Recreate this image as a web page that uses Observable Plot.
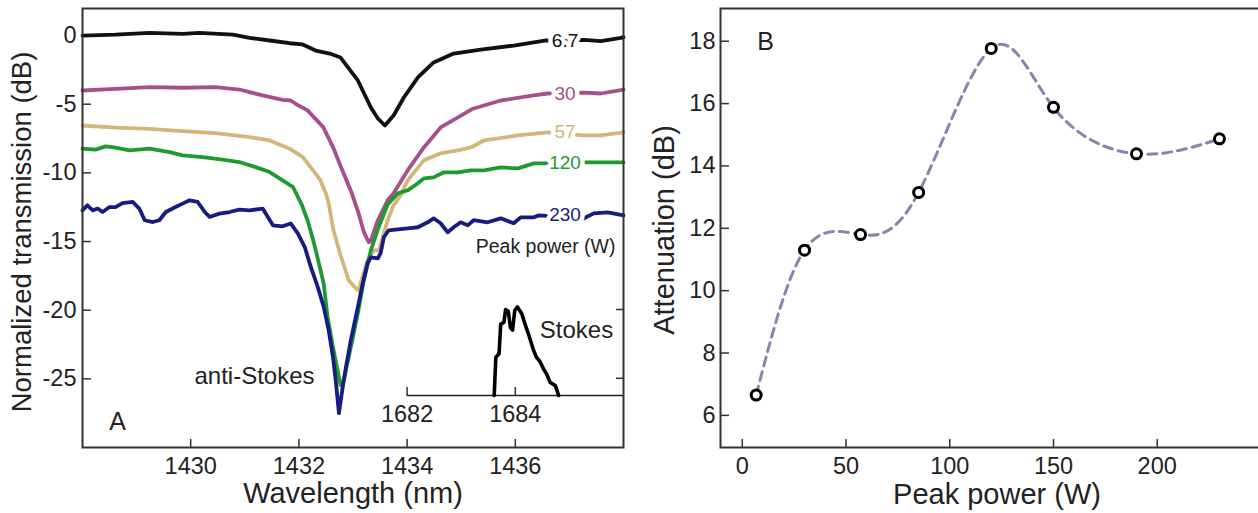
<!DOCTYPE html>
<html><head><meta charset="utf-8">
<script src="https://cdn.jsdelivr.net/npm/d3@7"></script>
<script src="https://cdn.jsdelivr.net/npm/@observablehq/plot@0.6"></script>
<style>
html,body{margin:0;padding:0;background:#fff;overflow:hidden}
#wrap{position:relative;width:1258px;height:513px;overflow:hidden;background:#fff}
#wrap svg{position:absolute}
</style></head><body><div id="wrap"></div>
<script>
// ---------- Panel A data (wavelength nm, normalized transmission dB) ----------
const wl67 = [1428.00,1428.61,1429.24,1429.85,1430.16,1430.78,1431.09,1431.46,1431.83,1432.07,1432.31,1432.57,1432.77,1433.09,1433.33,1433.46,1433.59,1433.75,1433.94,1434.20,1434.49,1434.86,1435.36,1435.97,1436.57,1437.27,1437.58,1437.95,1438.00];
const db67 = [0.00,0.07,0.20,0.12,0.20,0.07,-0.17,-0.36,-0.56,-0.65,-1.09,-1.31,-1.60,-3.27,-5.24,-6.04,-6.55,-5.82,-4.51,-3.05,-1.96,-1.31,-1.02,-0.73,-0.36,-0.31,-0.41,-0.17,-0.12];

const wl30 = [1428.00,1428.61,1429.24,1429.85,1430.46,1430.90,1431.33,1431.70,1431.85,1431.94,1432.16,1432.45,1432.63,1432.77,1432.96,1433.10,1433.20,1433.29,1433.33,1433.46,1433.64,1433.75,1434.01,1434.31,1434.62,1434.94,1435.20,1435.73,1436.34,1436.60,1437.27,1437.58,1438.00];
const db30 = [-4.00,-3.88,-3.76,-3.80,-3.76,-3.93,-4.36,-4.68,-4.73,-4.97,-5.45,-6.67,-8.12,-9.50,-11.30,-12.90,-14.30,-15.05,-14.91,-13.45,-12.00,-11.49,-9.82,-8.15,-6.69,-5.96,-5.35,-4.73,-4.36,-4.22,-4.15,-4.22,-3.93];

const wl57 = [1428.00,1428.61,1429.24,1429.85,1430.46,1431.09,1431.46,1431.83,1432.07,1432.31,1432.40,1432.50,1432.55,1432.64,1432.77,1432.92,1433.05,1433.11,1433.14,1433.27,1433.38,1433.48,1433.57,1433.64,1433.75,1433.88,1434.01,1434.31,1434.62,1434.94,1435.18,1435.42,1436.05,1436.60,1437.27,1437.58,1438.00];
const db57 = [-6.55,-6.71,-6.79,-6.96,-7.11,-7.40,-7.64,-8.24,-8.85,-10.06,-10.55,-11.51,-12.20,-14.20,-16.00,-17.82,-18.40,-18.55,-18.04,-16.36,-15.64,-15.64,-14.40,-13.45,-12.36,-11.64,-10.55,-9.09,-8.58,-8.36,-8.15,-7.64,-7.27,-7.05,-7.27,-7.27,-7.05];

const wl120 = [1428.00,1428.24,1428.43,1428.61,1428.87,1429.24,1429.61,1429.85,1430.22,1430.59,1430.90,1431.20,1431.46,1431.70,1431.89,1432.05,1432.16,1432.27,1432.40,1432.46,1432.53,1432.64,1432.74,1432.77,1432.83,1432.96,1433.09,1433.20,1433.33,1433.46,1433.64,1433.83,1434.01,1434.20,1434.31,1434.49,1434.68,1434.94,1435.18,1435.42,1435.73,1436.05,1436.34,1436.47,1437.27,1437.58,1438.00];
const db120 = [-8.24,-8.31,-8.07,-8.17,-8.36,-8.24,-8.49,-8.73,-8.85,-9.04,-9.21,-9.58,-9.94,-10.55,-11.03,-12.30,-13.45,-14.98,-17.09,-18.10,-20.50,-22.90,-24.87,-25.45,-25.09,-22.69,-20.22,-17.82,-15.64,-14.10,-12.30,-11.49,-11.27,-10.76,-10.40,-10.33,-9.96,-9.96,-9.82,-9.82,-9.60,-9.67,-9.31,-9.31,-9.24,-9.24,-9.24];

const wl230 = [1428.00,1428.09,1428.19,1428.28,1428.37,1428.50,1428.61,1428.74,1428.93,1429.05,1429.15,1429.30,1429.42,1429.54,1429.72,1429.85,1429.98,1430.13,1430.26,1430.35,1430.53,1430.72,1430.90,1431.09,1431.33,1431.52,1431.70,1431.85,1431.98,1432.11,1432.22,1432.35,1432.46,1432.55,1432.63,1432.68,1432.74,1432.81,1432.87,1432.96,1433.09,1433.18,1433.27,1433.33,1433.46,1433.51,1433.57,1433.66,1433.83,1434.01,1434.20,1434.38,1434.49,1434.62,1434.75,1434.86,1434.99,1435.12,1435.23,1435.49,1435.73,1435.97,1436.10,1436.34,1436.44,1437.27,1437.45,1437.71,1438.00];
const db230 = [-12.73,-12.36,-12.73,-12.60,-12.85,-12.49,-12.49,-12.20,-12.12,-12.60,-13.45,-13.58,-13.45,-12.85,-12.49,-12.24,-12.00,-12.12,-12.85,-13.21,-12.97,-12.85,-12.68,-12.73,-12.60,-13.82,-13.89,-13.69,-14.40,-15.42,-16.85,-18.33,-19.78,-21.45,-23.42,-25.09,-27.50,-25.60,-24.15,-22.18,-19.78,-18.04,-16.58,-16.15,-16.22,-15.85,-14.69,-14.18,-14.11,-14.04,-13.96,-13.60,-13.31,-13.67,-14.33,-13.96,-13.60,-13.82,-13.45,-13.60,-13.31,-13.67,-13.24,-13.24,-13.09,-13.31,-12.95,-12.87,-13.09];

const powerLabels = ["6.7", "30", "57", "120", "230"];
const seriesColors = ["#111111", "#a5508c", "#d5b67a", "#1f9a2f", "#161c80"];
const seriesWl = [wl67, wl30, wl57, wl120, wl230];
const seriesDb = [db67, db30, db57, db120, db230];

const xTicksA = [1430, 1432, 1434, 1436];
const yTicksA = [0, -5, -10, -15, -20, -25];

// inset (Stokes), wavelength nm and normalized intensity
const stokesWl = [1683.61,1683.64,1683.70,1683.73,1683.79,1683.82,1683.87,1683.91,1683.95,1683.99,1684.04,1684.12,1684.18,1684.24,1684.33,1684.39,1684.46,1684.52,1684.58,1684.64,1684.74,1684.77,1684.80];
const stokesI  = [0,0.445,0.485,0.83,0.85,1.00,0.98,0.79,0.76,0.99,1.03,0.95,0.83,0.72,0.54,0.445,0.39,0.31,0.25,0.155,0.115,0.06,0];
const insetXTicks = [1682, 1684];
const insetYTicks = [0.2, 1];

// ---------- Panel B data ----------
const peakPower = [6.7, 30, 57, 85, 120, 150, 190, 230];
const attenuation = [6.65, 11.3, 11.8, 13.15, 17.77, 15.88, 14.39, 14.87];
const xTicksB = [0, 50, 100, 150, 200];
const yTicksB = [6, 8, 10, 12, 14, 16, 18];

const FONT = "'Liberation Sans', Arial, Helvetica, sans-serif";
const INK = "#222";
const baseStyle = {fontFamily: FONT, fontSize: "23.5px", color: INK, background: "transparent", overflow: "visible"};
const plain = d => String(d);

const rowsA = [];
seriesWl.forEach((wls, k) => wls.forEach((w, i) => rowsA.push({p: powerLabels[k], wl: w, db: seriesDb[k][i]})));
const labelRows = powerLabels.map((p, k) => {
  const wls = seriesWl[k];
  let best = 0;
  wls.forEach((w, i) => { if (Math.abs(w - 1436.55) < Math.abs(wls[best] - 1436.55)) best = i; });
  return {p, db: seriesDb[k][best], color: seriesColors[k]};
});

const colorScale = {domain: powerLabels, range: seriesColors};

const left = Plot.plot({
  width: 640, height: 513,
  marginLeft: 82, marginRight: 17, marginTop: 8, marginBottom: 66,
  style: baseStyle,
  x: {domain: [1428, 1438]},
  y: {domain: [-30, 1.97]},
  color: colorScale,
  marks: [
    Plot.axisX({ticks: xTicksA, tickFormat: plain, tickSize: -8, tickPadding: 18, label: null, strokeWidth: 1.5, stroke: "#333"}),
    Plot.axisY({ticks: yTicksA, tickFormat: plain, tickSize: -9, tickPadding: 15, label: null, strokeWidth: 1.5, stroke: "#333"}),
    Plot.line(rowsA, {x: "wl", y: "db", z: "p", stroke: "p", strokeWidth: 3.8, strokeLinejoin: "round"}),
    Plot.text(labelRows, {x: () => 1436.92, y: "db", text: "p", fill: "color", stroke: "white", strokeWidth: 9, paintOrder: "stroke", fontSize: 19, textAnchor: "middle", lineAnchor: "middle"}),
    Plot.text(["Peak power (W)"], {frameAnchor: "top-right", dx: -8, dy: 238, textAnchor: "end", lineAnchor: "middle", fontSize: 19.5, fill: INK}),
    Plot.text(["anti-Stokes"], {frameAnchor: "bottom-left", dx: 172, dy: -71, textAnchor: "middle", lineAnchor: "middle", fontSize: 24, fill: INK}),
    Plot.text(["A"], {frameAnchor: "bottom-left", dx: 35, dy: -26, textAnchor: "middle", lineAnchor: "middle", fontSize: 25, fill: INK}),
    Plot.text(["Normalized transmission (dB)"], {frameAnchor: "left", dx: -60, dy: 4, rotate: -90, textAnchor: "middle", lineAnchor: "middle", fontSize: 27.5, fill: INK}),
    Plot.text(["Wavelength (nm)"], {frameAnchor: "bottom", dy: 46, textAnchor: "middle", lineAnchor: "middle", fontSize: 29, fill: INK}),
    Plot.frame({stroke: "#333", strokeWidth: 2})
  ]
});

const stokesRows = stokesWl.map((w, i) => ({wl: w, v: stokesI[i]}));
const inset = Plot.plot({
  width: 640, height: 140,
  marginLeft: 82, marginRight: 17, marginTop: 19, marginBottom: 35,
  style: baseStyle,
  x: {domain: [1676, 1686]},
  y: {domain: [0, 1]},
  marks: [
    Plot.ruleY([0], {x1: insetXTicks[0], x2: 1686, stroke: "#222", strokeWidth: 1.5}),
    Plot.axisX({ticks: insetXTicks, tickFormat: plain, tickSize: -8, tickPadding: 18, label: null, strokeWidth: 1.5, stroke: "#333"}),
    Plot.axisY({anchor: "right", ticks: insetYTicks, tickSize: -8, tickFormat: () => "", label: null, strokeWidth: 1.5, stroke: "#333"}),
    Plot.line(stokesRows, {x: "wl", y: "v", stroke: "black", strokeWidth: 3.6, strokeLinejoin: "round"}),
    Plot.text(["Stokes"], {frameAnchor: "top-right", dx: -47, dy: 21, textAnchor: "middle", lineAnchor: "middle", fontSize: 24, fill: INK})
  ]
});

const rowsB = peakPower.map((p, i) => ({p, a: attenuation[i]}));
const right = Plot.plot({
  width: 620, height: 513,
  marginLeft: 80, marginRight: 1, marginTop: 8, marginBottom: 66,
  style: baseStyle,
  x: {domain: [-10.5, 249.3]},
  y: {domain: [4.97, 19.05]},
  marks: [
    Plot.axisX({ticks: xTicksB, tickFormat: plain, tickSize: -8, tickPadding: 18, label: null, strokeWidth: 1.5, stroke: "#333"}),
    Plot.axisY({ticks: yTicksB, tickFormat: plain, tickSize: -9, tickPadding: 14, label: null, strokeWidth: 1.5, stroke: "#333"}),
    Plot.line(rowsB, {x: "p", y: "a", curve: "natural", stroke: "#8585ae", strokeWidth: 3, strokeDasharray: "9,6"}),
    Plot.dot(rowsB, {x: "p", y: "a", r: 5, stroke: "black", strokeWidth: 3, fill: "white"}),
    Plot.text(["B"], {frameAnchor: "top-left", dx: 45, dy: 33, textAnchor: "middle", lineAnchor: "middle", fontSize: 25, fill: INK}),
    Plot.text(["Attenuation (dB)"], {frameAnchor: "left", dx: -56, dy: 2, rotate: -90, textAnchor: "middle", lineAnchor: "middle", fontSize: 29, fill: INK}),
    Plot.text(["Peak power (W)"], {frameAnchor: "bottom", dx: 7, dy: 47, textAnchor: "middle", lineAnchor: "middle", fontSize: 29, fill: INK}),
    Plot.frame({stroke: "#333", strokeWidth: 2})
  ]
});

const wrap = document.getElementById("wrap");
left.style.left = "0px"; left.style.top = "0px";
inset.style.left = "0px"; inset.style.top = "290px";
right.style.left = "640px"; right.style.top = "0px";
wrap.appendChild(left);
wrap.appendChild(inset);
wrap.appendChild(right);
</script>
</body></html>
